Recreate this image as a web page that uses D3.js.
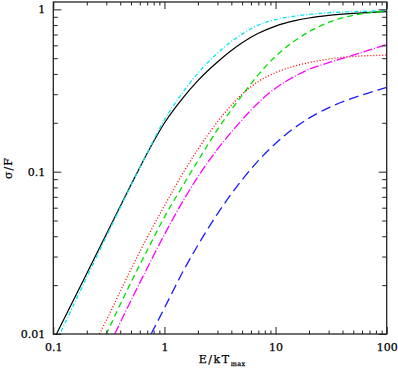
<!DOCTYPE html>
<html>
<head>
<meta charset="utf-8">
<script src="https://cdn.jsdelivr.net/npm/d3@7"></script>
<style>
    body { margin: 0; background: #fff; }
    svg text { font-family: "DejaVu Serif", serif; fill: #000; stroke: #000; stroke-width: 0.25px; }
</style>
</head>
<body>
<div id="chartDiv"></div>
<script>
// values, x = E/kTmax, y = sigma/F
const blackX = [0.1, 0.15, 0.2, 0.3, 0.5, 0.7, 1, 1.5, 2, 3, 5, 7, 10, 15, 20, 30, 50, 70, 100];
const blackY = [0.00914, 0.0159, 0.0236, 0.0412, 0.083, 0.13, 0.1995, 0.29, 0.364, 0.474, 0.623, 0.712, 0.789, 0.852, 0.885, 0.918, 0.945, 0.957, 0.968];

const cyanX = [0.1, 0.15, 0.2, 0.3, 0.5, 0.7, 1, 1.5, 2, 3, 5, 7, 10, 15, 20, 30, 50, 70, 100];
const cyanY = [0.00824, 0.01476, 0.02236, 0.0399, 0.0821, 0.1306, 0.2088, 0.3153, 0.4044, 0.5374, 0.704, 0.8, 0.865, 0.909, 0.93, 0.954, 0.969, 0.976, 0.982];

const greenX = [0.298, 0.5, 0.7, 1, 1.5, 2, 3, 5, 7, 10, 15, 20, 30, 50, 70, 100];
const greenY = [0.0099, 0.0208, 0.0328, 0.0525, 0.0843, 0.1166, 0.1816, 0.2954, 0.396, 0.5134, 0.6427, 0.7285, 0.8313, 0.9196, 0.9515, 0.9775];

const redX = [0.26, 0.3, 0.5, 0.7, 1, 1.5, 2, 3, 5, 7, 10, 15, 20, 30, 50, 70, 100];
const redY = [0.01, 0.01215, 0.02505, 0.03936, 0.0617, 0.1004, 0.1373, 0.2029, 0.3, 0.3593, 0.4077, 0.4478, 0.47, 0.494, 0.5128, 0.5186, 0.5223];

const magentaX = [0.357, 0.5, 0.7, 1, 1.5, 2, 3, 5, 7, 10, 15, 20, 30, 50, 70, 100];
const magentaY = [0.01, 0.01608, 0.02548, 0.041, 0.0675, 0.093, 0.1373, 0.2088, 0.2662, 0.3267, 0.388, 0.4273, 0.4694, 0.5223, 0.5623, 0.6064];

const blueX = [0.759, 1, 1.5, 2, 3, 5, 7, 10, 15, 20, 30, 50, 70, 100];
const blueY = [0.01, 0.01445, 0.02493, 0.03523, 0.055, 0.0891, 0.1169, 0.1493, 0.1874, 0.2136, 0.2475, 0.2846, 0.3069, 0.3304];

const xMajor = [0.1, 1, 10, 100];
const xMajorLabels = ["0.1", "1", "10", "100"];
const yMajor = [0.01, 0.1, 1];
const yMajorLabels = ["0.01", "0.1", "1"];

class LogChart {
    constructor(width, height) {
        this.width = width;
        this.height = height;
        this.left = 53.3;
        this.right = 386.7;
        this.top = 2;
        this.bottom = 334;
        this.svg = this.setupSVG();

        this.x = d3.scaleLog().domain([0.1, 100]).range([this.left, this.right]);
        this.y = d3.scaleLog().domain([0.01, 1.11]).range([this.bottom, this.top]);
    }

    setupSVG() {
        return d3.select('#chartDiv')
            .append('svg')
            .attr('width', this.width)
            .attr('height', this.height);
    }

    minorTicks(lo, hi) {
        let ticks = [];
        for (let d = lo; d < hi; d *= 10) {
            for (let k = 2; k <= 9; k++) ticks.push(d * k);
        }
        return ticks;
    }

    drawAxes() {
        const x = this.x, y = this.y;
        const xMinor = this.minorTicks(0.1, 100);
        const yMinor = this.minorTicks(0.01, 1);
        const w = this.right - this.left, h = this.bottom - this.top;

        const put = (axis, tx, ty) => {
            const g = this.svg.append('g')
                .attr('transform', 'translate(' + tx + ',' + ty + ')')
                .call(axis);
            g.select('.domain').remove();
            g.selectAll('line').attr('stroke', '#222').attr('stroke-width', 1);
            return g;
        };

        // bottom / top
        const bottomMajor = put(d3.axisBottom(x).tickValues(xMajor).tickSize(-7).tickSizeOuter(0)
            .tickPadding(9).tickFormat((d, i) => xMajorLabels[i]), 0, this.bottom);
        bottomMajor.selectAll('text').attr('font-size', 11).attr('font-family', 'DejaVu Serif');
        put(d3.axisBottom(x).tickValues(xMinor).tickSize(-3.5).tickSizeOuter(0).tickFormat(''), 0, this.bottom);
        put(d3.axisTop(x).tickValues(xMajor).tickSize(-7).tickSizeOuter(0).tickFormat(''), 0, this.top);
        put(d3.axisTop(x).tickValues(xMinor).tickSize(-3.5).tickSizeOuter(0).tickFormat(''), 0, this.top);

        // left / right
        const leftMajor = put(d3.axisLeft(y).tickValues(yMajor).tickSize(-8).tickSizeOuter(0)
            .tickPadding(8).tickFormat((d, i) => yMajorLabels[i]), this.left, 0);
        leftMajor.selectAll('text').attr('font-size', 11).attr('font-family', 'DejaVu Serif');
        put(d3.axisLeft(y).tickValues(yMinor).tickSize(-4.5).tickSizeOuter(0).tickFormat(''), this.left, 0);
        put(d3.axisRight(y).tickValues(yMajor).tickSize(-8).tickSizeOuter(0).tickFormat(''), this.right, 0);
        put(d3.axisRight(y).tickValues(yMinor).tickSize(-4.5).tickSizeOuter(0).tickFormat(''), this.right, 0);

        this.svg.append('rect')
            .attr('x', this.left).attr('y', this.top)
            .attr('width', w).attr('height', h)
            .attr('fill', 'none')
            .attr('stroke', '#222')
            .attr('stroke-width', 1.3);

        // axis titles
        const xt = this.svg.append('text')
            .attr('x', (this.left + this.right) / 2 + 2)
            .attr('y', 363)
            .attr('text-anchor', 'middle')
            .attr('font-size', 11)
            .attr('letter-spacing', 1.6);
        xt.append('tspan').text('E/kT');
        xt.append('tspan').attr('font-size', 6.5).attr('dy', 2.5).attr('letter-spacing', 0.3).text('max');

        this.svg.append('text')
            .attr('transform', 'translate(12,' + ((this.top + this.bottom) / 2) + ') rotate(-90)')
            .attr('text-anchor', 'middle')
            .attr('font-size', 11)
            .attr('letter-spacing', 1)
            .text('σ/F');
    }

    drawCurves() {
        this.svg.append('clipPath').attr('id', 'plotClip')
            .append('rect')
            .attr('x', this.left).attr('y', this.top)
            .attr('width', this.right - this.left).attr('height', this.bottom - this.top);

        const lineFunc = d3.line()
            .x(d => this.x(d[0]))
            .y(d => this.y(d[1]))
            .curve(d3.curveMonotoneX);

        const series = [
            {xs: blackX, ys: blackY, color: '#000000', dash: null, w: 1.2},
            {xs: cyanX, ys: cyanY, color: '#00e8f0', dash: '4,2,1,2', w: 1.3},
            {xs: greenX, ys: greenY, color: '#00e000', dash: '6,4', w: 1.3},
            {xs: redX, ys: redY, color: '#ff0000', dash: '1,2', w: 1.3},
            {xs: magentaX, ys: magentaY, color: '#ff00ff', dash: '9,2,1,2', w: 1.3},
            {xs: blueX, ys: blueY, color: '#1a1aff', dash: '10,5', w: 1.3}
        ];

        const g = this.svg.append('g').attr('clip-path', 'url(#plotClip)');
        series.forEach(s => {
            g.append('path')
                .attr('d', lineFunc(s.xs.map((v, i) => [v, s.ys[i]])))
                .attr('fill', 'none')
                .attr('stroke', s.color)
                .attr('stroke-width', s.w)
                .attr('stroke-dasharray', s.dash);
        });
    }
}

const chart = new LogChart(398, 371);
chart.drawCurves();
chart.drawAxes();
</script>
</body>
</html>
